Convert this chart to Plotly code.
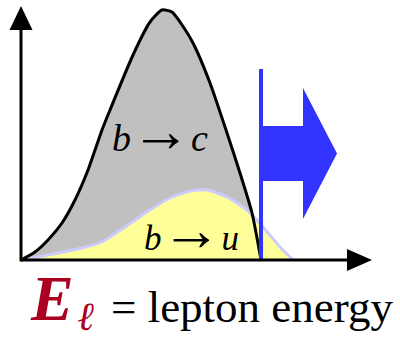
import plotly.graph_objects as go

# Lepton energy spectra (arbitrary units), sampled along each curve
bc_energy = [0.00, 0.14, 0.27, 0.41, 0.54, 0.67, 0.81, 0.89, 1.12, 1.29, 1.41, 1.51,
             1.59, 1.72, 1.89, 2.06, 2.19, 2.31, 2.40]
bc_rate = [0.00, 0.08, 0.20, 0.37, 0.60, 0.90, 1.30, 1.50, 2.05, 2.38, 2.50, 2.48,
           2.38, 2.17, 1.77, 1.27, 0.87, 0.47, 0.00]

bu_energy = [0.00, 0.27, 0.61, 0.81, 1.04, 1.29, 1.49, 1.69, 1.86, 2.06, 2.26, 2.42,
             2.59, 2.72]
bu_rate = [0.00, 0.05, 0.12, 0.18, 0.33, 0.50, 0.62, 0.69, 0.70, 0.63, 0.50, 0.33,
           0.13, 0.00]

# Energy cut and the arrow marking the selected region above it
cut_energy = 2.40
cut_height = 1.91
arrow_len = 0.76
arrow_mid = 1.065

axis_x_end = 3.51
axis_y_end = 2.54

BLACK = "#000000"
GREY = "#c0c0c0"
YELLOW = "#ffff99"
LAVENDER = "#ccccff"
BLUE = "#3333ff"
DARK_RED = "#aa0022"
SERIF = "Liberation Serif, Times New Roman, serif"

fig = go.Figure()

# b -> c spectrum: grey area
fig.add_trace(go.Scatter(
    x=bc_energy, y=bc_rate, mode="lines", fill="tozeroy",
    fillcolor=GREY, line=dict(color=GREY, width=0, shape="spline", smoothing=0.6),
    hoverinfo="skip"))

# b -> u spectrum: yellow area with lavender edge
fig.add_trace(go.Scatter(
    x=bu_energy, y=bu_rate, mode="lines", fill="tozeroy",
    fillcolor=YELLOW, line=dict(color=LAVENDER, width=3, shape="spline", smoothing=0.6),
    hoverinfo="skip"))

# b -> c outline on top
fig.add_trace(go.Scatter(
    x=bc_energy, y=bc_rate, mode="lines",
    line=dict(color=BLACK, width=3, shape="spline", smoothing=0.6),
    hoverinfo="skip"))

# Cut marker: vertical bar plus block arrow pointing to higher energy
bar_w = 0.02
head_x = cut_energy + bar_w + 0.40
shaft_half = 0.275
head_half = 0.655
flag_x = [cut_energy - bar_w, cut_energy - bar_w, cut_energy + bar_w, cut_energy + bar_w,
          head_x, head_x, cut_energy + arrow_len, head_x, head_x,
          cut_energy + bar_w, cut_energy + bar_w, cut_energy - bar_w]
flag_y = [0, cut_height, cut_height, arrow_mid + shaft_half,
          arrow_mid + shaft_half, arrow_mid + head_half, arrow_mid,
          arrow_mid - head_half, arrow_mid - shaft_half,
          arrow_mid - shaft_half, 0, 0]
fig.add_trace(go.Scatter(
    x=flag_x, y=flag_y, mode="lines", fill="toself", fillcolor=BLUE,
    line=dict(color=BLUE, width=0), hoverinfo="skip"))

# Axes: lines plus solid triangular heads
head_len_x, head_half_x = 0.25, 0.11
head_len_y, head_half_y = 0.24, 0.115
fig.add_trace(go.Scatter(
    x=[0, axis_x_end - head_len_x], y=[0, 0], mode="lines",
    line=dict(color=BLACK, width=3), hoverinfo="skip"))
fig.add_trace(go.Scatter(
    x=[0, 0], y=[-0.015, axis_y_end - head_len_y], mode="lines",
    line=dict(color=BLACK, width=3), hoverinfo="skip"))
fig.add_trace(go.Scatter(
    x=[axis_x_end - head_len_x, axis_x_end, axis_x_end - head_len_x, axis_x_end - head_len_x],
    y=[head_half_x, 0, -head_half_x, head_half_x],
    mode="lines", fill="toself", fillcolor=BLACK, line=dict(color=BLACK, width=0),
    hoverinfo="skip"))
fig.add_trace(go.Scatter(
    x=[-head_half_y, 0, head_half_y, -head_half_y],
    y=[axis_y_end - head_len_y, axis_y_end, axis_y_end - head_len_y, axis_y_end - head_len_y],
    mode="lines", fill="toself", fillcolor=BLACK, line=dict(color=BLACK, width=0),
    hoverinfo="skip"))

ARROW = '<span style="font-size:60px">→</span>'

# Labels
fig.add_annotation(x=1.39, y=1.29, xref="x", yref="y", showarrow=False,
                   text=f"<i>b</i>{ARROW}<i>c</i>",
                   font=dict(family=SERIF, size=38, color=BLACK))
fig.add_annotation(x=1.70, y=0.30, xref="x", yref="y", showarrow=False,
                   text=f"<i>b</i>{ARROW}<i>u</i>",
                   font=dict(family=SERIF, size=35, color=BLACK))
fig.add_annotation(x=0.31, y=-0.38, xref="x", yref="y", showarrow=False,
                   text="<b><i>E</i></b>",
                   font=dict(family=SERIF, size=64, color=DARK_RED))
fig.add_annotation(x=0.655, y=-0.565, xref="x", yref="y", showarrow=False,
                   text="<b><i>ℓ</i></b>",
                   font=dict(family=SERIF, size=40, color=DARK_RED))
fig.add_annotation(x=2.305, y=-0.47, xref="x", yref="y", showarrow=False,
                   text="= lepton energy",
                   font=dict(family=SERIF, size=45, color=BLACK))

fig.update_layout(
    width=400, height=339,
    margin=dict(l=0, r=0, t=0, b=0),
    paper_bgcolor="white", plot_bgcolor="white",
    showlegend=False,
    xaxis=dict(range=[-0.21, 3.79], visible=False, fixedrange=True),
    yaxis=dict(range=[-0.79, 2.60], visible=False, fixedrange=True),
)

fig.write_html("out.html")
